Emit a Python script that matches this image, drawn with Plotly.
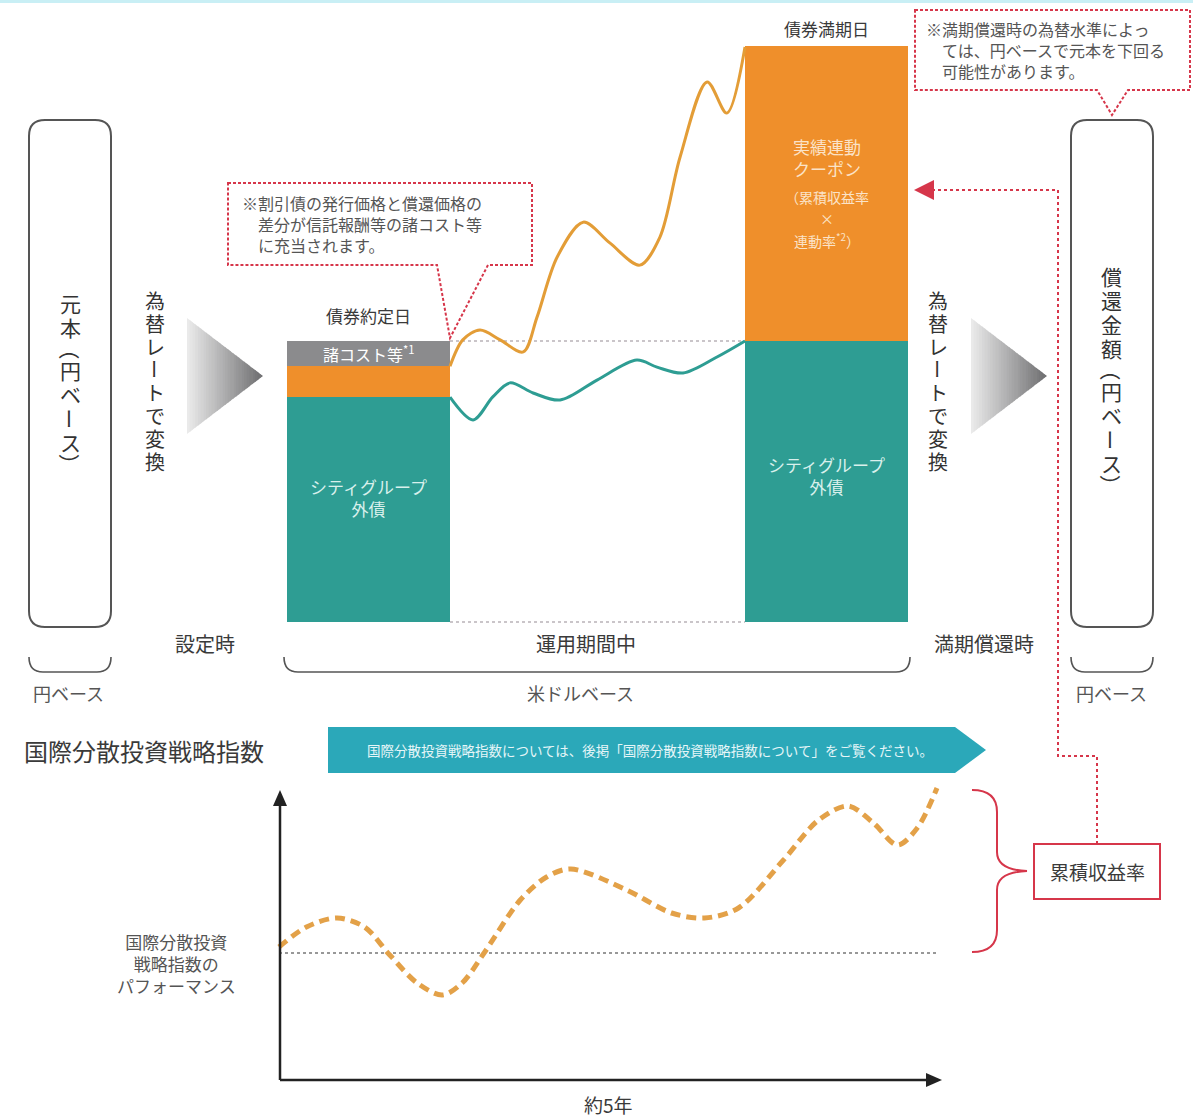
import plotly.graph_objects as go

# ---------------- data ----------------
# upper chart (US-dollar base), value units: principal level = 100
bar_labels = ["債券約定日", "債券満期日"]
teal_vals = [80, 100]          # シティグループ外債
orange_vals = [11, 105]        # left: discount part / right: 実績連動クーポン
gray_vals = [9]                # 諸コスト等 (left bar only)

# months since issue, value
coupon_months = [0, 2.6, 6.1, 10.2, 14.9, 17.7, 21.8, 27.1, 32.5, 38.6, 42.7, 46.8, 52.3, 56.3, 60]
coupon_values = [91, 100.4, 103.9, 100.4, 96.1, 108.5, 129.9, 142.3, 134.9, 127.0, 137.0, 165.5, 192.2, 181.1, 204.6]
bond_months = [0, 4.7, 8.7, 12.2, 16.9, 22.4, 29.9, 38.0, 42.1, 47.4, 54.3, 60]
bond_values = [80, 71.9, 80.1, 85.1, 81.5, 79.0, 86.1, 93.2, 90.7, 88.6, 94.3, 100]

# lower chart: index performance (start = 100)
index_months = [0, 2.5, 5.3, 7.8, 10.1, 12.6, 14.9, 16.7, 18.7, 22.0, 24.4, 26.6, 31.7, 35.8,
                38.8, 41.9, 46.0, 49.2, 51.9, 54.2, 56.4, 58.2, 60]
index_values = [103, 113, 117.5, 113, 99, 85, 79, 85, 100, 126.5, 138, 142, 131.5, 120,
                117.5, 122.5, 146.5, 166.5, 173.5, 165, 154, 162.5, 182.5]

# ---------------- geometry (pixel canvas) ----------------
W, H = 1193, 1118
FONT = "Noto Sans CJK JP"
TXT = "#3a3a3a"
TEAL = "#2E9D93"
ORANGE = "#EF8F2B"
GRAY = "#8B8B8D"
RED = "#D6364A"
CURVE_OR = "#E39D37"

# upper chart mapping
U_X0, U_PXM = 450, 295 / 60     # px at month 0, px per month
U_Y0, U_PXV = 622, 2.81         # px at value 0, px per value unit
BAR_W = 163 / U_PXM
# lower chart mapping
L_X0, L_PXM = 279, 658 / 60
L_Y0, L_PXV = 953, 2.0          # px at value 100

def urange_x():
    return [(0 - U_X0) / U_PXM, (W - U_X0) / U_PXM]

def urange_y():
    return [(U_Y0 - H) / U_PXV, U_Y0 / U_PXV]

def lrange_x():
    return [(0 - L_X0) / L_PXM, (W - L_X0) / L_PXM]

def lrange_y():
    return [100 + (L_Y0 - H) / L_PXV, 100 + L_Y0 / L_PXV]

def uv(py):
    """pixel row -> upper-chart value"""
    return (U_Y0 - py) / U_PXV

fig = go.Figure()

bar_x = [-BAR_W / 2, 60 + BAR_W / 2]
fig.add_trace(go.Bar(x=bar_x, y=teal_vals, base=[0, 0], width=[BAR_W] * 2,
                     marker=dict(color=TEAL, line=dict(width=0)), xaxis="x2", yaxis="y2",
                     hoverinfo="skip"))
fig.add_trace(go.Bar(x=bar_x, y=orange_vals, base=teal_vals, width=[BAR_W] * 2,
                     marker=dict(color=ORANGE, line=dict(width=0)), xaxis="x2", yaxis="y2",
                     hoverinfo="skip"))
fig.add_trace(go.Bar(x=bar_x[:1], y=gray_vals, base=[teal_vals[0] + orange_vals[0]], width=[BAR_W],
                     marker=dict(color=GRAY, line=dict(width=0)), xaxis="x2", yaxis="y2",
                     hoverinfo="skip"))

# reference dotted lines between bars
fig.add_trace(go.Scatter(x=[0, 60], y=[100, 100], mode="lines", xaxis="x2", yaxis="y2",
                         line=dict(color="#b9b3b8", width=1.5, dash="dot"), hoverinfo="skip"))
fig.add_trace(go.Scatter(x=[0, 60], y=[0, 0], mode="lines", xaxis="x2", yaxis="y2",
                         line=dict(color="#b9b3b8", width=1.5, dash="dot"), hoverinfo="skip"))
# curves
fig.add_trace(go.Scatter(x=coupon_months, y=coupon_values, mode="lines", xaxis="x2", yaxis="y2",
                         line=dict(color=CURVE_OR, width=3, shape="spline", smoothing=0.9),
                         hoverinfo="skip"))
fig.add_trace(go.Scatter(x=bond_months, y=bond_values, mode="lines", xaxis="x2", yaxis="y2",
                         line=dict(color=TEAL, width=3, shape="spline", smoothing=0.9),
                         hoverinfo="skip"))

# lower chart
fig.add_trace(go.Scatter(x=[0, 60], y=[100, 100], mode="lines", xaxis="x3", yaxis="y3",
                         line=dict(color="#777777", width=1.5, dash="dot"), hoverinfo="skip"))
fig.add_trace(go.Scatter(x=index_months, y=index_values, mode="lines", xaxis="x3", yaxis="y3",
                         line=dict(color="#E3A148", width=5, shape="spline", smoothing=0.9,
                                   dash="10px,6px"),
                         hoverinfo="skip"))

shapes = []
annots = []

def add_path(path, color=None, width=2, fill=None, dash=None, layer="above"):
    line = dict(color=color if color else "rgba(0,0,0,0)", width=width if color else 0)
    if dash:
        line["dash"] = dash
    shapes.append(dict(type="path", path=path, xref="x", yref="y", line=line,
                       fillcolor=fill if fill else "rgba(0,0,0,0)", layer=layer))

def rrect(x0, y0, x1, y1, r):
    return (f"M{x0+r},{y0} L{x1-r},{y0} Q{x1},{y0} {x1},{y0+r} L{x1},{y1-r} Q{x1},{y1} {x1-r},{y1} "
            f"L{x0+r},{y1} Q{x0},{y1} {x0},{y1-r} L{x0},{y0+r} Q{x0},{y0} {x0+r},{y0} Z")

def text(x, y, s, size, color=TXT, xanchor="center", align="center", xref="x", yref="y", angle=0):
    annots.append(dict(x=x, y=y, text=s, showarrow=False, xref=xref, yref=yref,
                       xanchor=xanchor, yanchor="middle", align=align, textangle=angle,
                       font=dict(family=FONT, size=size, color=color)))

ROTATED = {"（", "）", "ー"}

def vtext(chars, x, y0, pitch, size, color=TXT):
    y = y0
    for c in chars:
        if c in ROTATED:
            step = pitch * (0.8 if c != "ー" else 1.0)
            text(x, y - pitch * 0.1 if c != "ー" else y, c, size, color, angle=90)
        else:
            step = pitch
            text(x, y, c, size, color)
        y += step

def hexmix(c1, c2, t):
    a = [int(c1[i:i+2], 16) for i in (1, 3, 5)]
    b = [int(c2[i:i+2], 16) for i in (1, 3, 5)]
    return "#" + "".join(f"{round(a[k] + (b[k]-a[k]) * t):02x}" for k in range(3))

def grad_triangle(x0, yt, yb, xa):
    ym = (yt + yb) / 2
    n = 28
    for i in range(n):
        xa_i = x0 + (xa - x0) * i / n
        xb_i = x0 + (xa - x0) * (i + 1) / n + 0.6
        def top(x):
            return yt + (x - x0) * (ym - yt) / (xa - x0)
        def bot(x):
            return yb - (x - x0) * (yb - ym) / (xa - x0)
        xb_c = min(xb_i, xa)
        col = hexmix("#ececec", "#6c6c6e", (i + 0.5) / n)
        add_path(f"M{xa_i},{top(xa_i)} L{xb_c},{top(xb_c)} L{xb_c},{bot(xb_c)} L{xa_i},{bot(xa_i)} Z",
                 fill=col, layer="below")

# top thin cyan line
shapes.append(dict(type="rect", xref="x", yref="y", x0=0, x1=W, y0=0, y1=3,
                   fillcolor="#c9eff5", line=dict(width=0)))

# rounded boxes
add_path(rrect(29, 120, 111, 627, 16), color="#555555", width=2)
add_path(rrect(1071, 120, 1153, 627, 16), color="#555555", width=2)
vtext(["元", "本", "（", "円", "ベ", "ー", "ス", "）"], 70, 303, 24, 21, color="#333333")
vtext(["償", "還", "金", "額", "（", "円", "ベ", "ー", "ス", "）"], 1111, 276, 24, 21, color="#333333")

# exchange conversion labels + triangles
vtext(["為", "替", "レ", "ー", "ト", "で", "変", "換"], 155, 300, 23, 20, color="#333333")
vtext(["為", "替", "レ", "ー", "ト", "で", "変", "換"], 938, 300, 23, 20, color="#333333")
grad_triangle(187, 318, 434, 263)
grad_triangle(971, 318, 434, 1047)

# brackets below
for (a, b) in [(29, 111), (284, 910), (1071, 1153)]:
    add_path(f"M{a},657 Q{a},672 {a+14},672 L{b-14},672 Q{b},672 {b},657", color="#555555", width=1.6)
text(205, 643, "設定時", 20)
text(586, 643, "運用期間中", 20)
text(984, 643, "満期償還時", 20)
text(68, 693, "円ベース", 18, color="#555555")
text(580, 693, "米ドルベース", 18, color="#555555")
text(1111, 693, "円ベース", 18, color="#555555")

# bar labels (data coordinates)
text(bar_x[0], uv(315), bar_labels[0], 17, xref="x2", yref="y2")
text(bar_x[1], uv(28), bar_labels[1], 17, xref="x2", yref="y2")
text(bar_x[0], 95.5, "諸コスト等<sup>*1</sup>", 16, color="white", xref="x2", yref="y2")
text(bar_x[0], uv(497), "シティグループ<br>外債", 17, color="#d9f0ec", xref="x2", yref="y2")
text(bar_x[1], uv(475), "シティグループ<br>外債", 17, color="#d9f0ec", xref="x2", yref="y2")
text(bar_x[1], uv(157), "実績連動<br>クーポン", 17, color="#fbe3c8", xref="x2", yref="y2")
text(bar_x[1], uv(197), "（累積収益率", 14, color="#fbe3c8", xref="x2", yref="y2")
text(bar_x[1], uv(218), "×", 14, color="#fbe3c8", xref="x2", yref="y2")
text(bar_x[1], uv(240), "連動率<sup>*2</sup>）", 14, color="#fbe3c8", xref="x2", yref="y2")

# callout 1
add_path("M228,183 L532,183 L532,265 L488,265 L450,338 L437,265 L228,265 Z",
         color=RED, width=2, fill="white", dash="3px,2px")
text(240, 224, "※割引債の発行価格と償還価格の<br>　差分が信託報酬等の諸コスト等<br>　に充当されます。",
     16, color="#555555", xanchor="left", align="left")
# callout 2
add_path("M915,10 L1190,10 L1190,90 L1128,90 L1112,115 L1097,90 L915,90 Z",
         color=RED, width=2, fill="white", dash="3px,2px")
text(924, 50, "※満期償還時の為替水準によっ<br>　ては、円ベースで元本を下回る<br>　可能性があります。",
     16, color="#555555", xanchor="left", align="left")

# red connector from 累積収益率 to coupon
add_path("M932,190 L1058,190 L1058,756 L1097,756 L1097,844", color=RED, width=2, dash="dot")
add_path("M914,190 L934,180 L934,200 Z", fill=RED)

# lower section
text(22, 750, "国際分散投資戦略指数", 24, xanchor="left")
add_path("M328,727 L955,727 L986,750 L955,773 L328,773 Z", fill="#2BA8B9")
text(650, 750, "国際分散投資戦略指数については、後掲「国際分散投資戦略指数について」をご覧ください。",
     13.5, color="#e6f6f8")

# axes arrows
add_path("M280,1080 L280,803", color="#222222", width=2.5)
add_path("M273,806 L280,790 L287,806 Z", fill="#222222")
add_path("M280,1080 L928,1080", color="#222222", width=2.5)
add_path("M926,1073 L942,1080 L926,1087 Z", fill="#222222")
text(608, 1104, "約5年", 19)
text(176, 963, "国際分散投資<br>戦略指数の<br>パフォーマンス", 17, color="#555555")

# curly brace
add_path("M972,790 Q997,790 997,812 L997,852 Q997,870 1027,871 Q997,872 997,890 L997,930 "
         "Q997,952 972,952", color=RED, width=2)
shapes.append(dict(type="rect", xref="x", yref="y", x0=1034, x1=1160, y0=844, y1=899,
                   line=dict(color=RED, width=2), fillcolor="white"))
text(1097, 871, "累積収益率", 19)

hidden = dict(visible=False, showgrid=False, zeroline=False, fixedrange=True)
fig.update_layout(
    width=W, height=H, margin=dict(l=0, r=0, t=0, b=0),
    paper_bgcolor="white", plot_bgcolor="white", showlegend=False,
    barmode="overlay", bargap=0,
    xaxis=dict(range=[0, W], domain=[0, 1], **hidden),
    yaxis=dict(range=[H, 0], domain=[0, 1], **hidden),
    xaxis2=dict(range=urange_x(), domain=[0, 1], overlaying="x", anchor="y2", **hidden),
    yaxis2=dict(range=urange_y(), domain=[0, 1], overlaying="y", anchor="x2", **hidden),
    xaxis3=dict(range=lrange_x(), domain=[0, 1], overlaying="x", anchor="y3", **hidden),
    yaxis3=dict(range=lrange_y(), domain=[0, 1], overlaying="y", anchor="x3", **hidden),
    shapes=shapes, annotations=annots,
)

fig.write_html("out.html", config={"displayModeBar": False},
               post_script="document.body.style.margin='0';document.body.style.overflow='hidden';")
